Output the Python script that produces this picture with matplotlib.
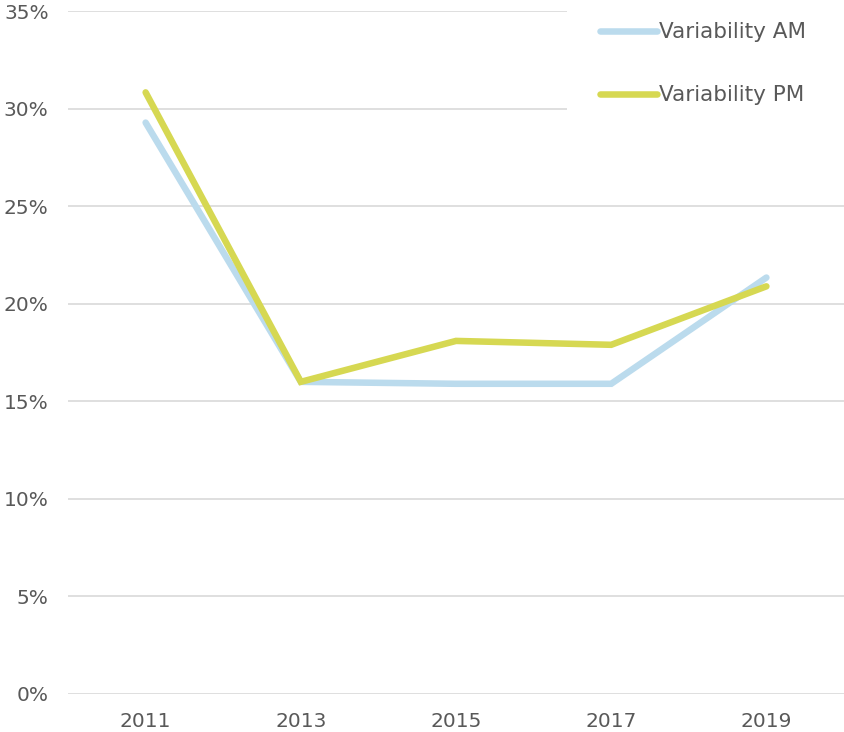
import matplotlib.pyplot as plt
from matplotlib.patches import Rectangle
from matplotlib.ticker import PercentFormatter

years = ['2011', '2013', '2015', '2017', '2019']
variability_am = [29.3, 16.0, 15.9, 15.9, 21.35]
variability_pm = [30.85, 16.0, 18.1, 17.9, 20.9]

plt.rcParams['font.family'] = ['DejaVu Sans']

fig = plt.figure(figsize=(8.44, 7.32), dpi=100)
ax = fig.add_axes([0.0806, 0.0523, 0.9194, 0.932])

x = range(len(years))
ax.plot(x, variability_am, color='#BBDBED', lw=4.7, solid_capstyle='round',
        solid_joinstyle='miter', label='Variability AM', zorder=3)
ax.plot(x, variability_pm, color='#D6D852', lw=4.7, solid_capstyle='round',
        solid_joinstyle='miter', label='Variability PM', zorder=3)

ax.set_xlim(-0.5, 4.5)
ax.set_ylim(0, 35)
ax.set_yticks(range(0, 36, 5))
ax.yaxis.set_major_formatter(PercentFormatter(decimals=0))
ax.set_xticks(list(x))
ax.set_xticklabels(years)
ax.grid(axis='y', color='#D9D9D9', lw=1.2)
ax.set_axisbelow(True)
for s in ax.spines.values():
    s.set_visible(False)
ax.tick_params(length=0, labelsize=14.5, colors='#595959')
ax.tick_params(axis='x', pad=13)
ax.tick_params(axis='y', pad=14)

# white box behind the legend hides the gridlines there
ax.add_patch(Rectangle((0.643, 0.853), 0.4, 0.2, transform=ax.transAxes,
                       facecolor='white', edgecolor='none', zorder=2,
                       clip_on=False))

leg = ax.legend(loc='upper left', bbox_to_anchor=(0.6856, 0.984),
                frameon=False, fontsize=15.5, handlelength=2.65,
                handletextpad=0.1, labelspacing=2.0, borderpad=0,
                borderaxespad=0)
leg.set_zorder(4)
for t in leg.get_texts():
    t.set_color('#595959')

fig.savefig('out.png', dpi=100)
